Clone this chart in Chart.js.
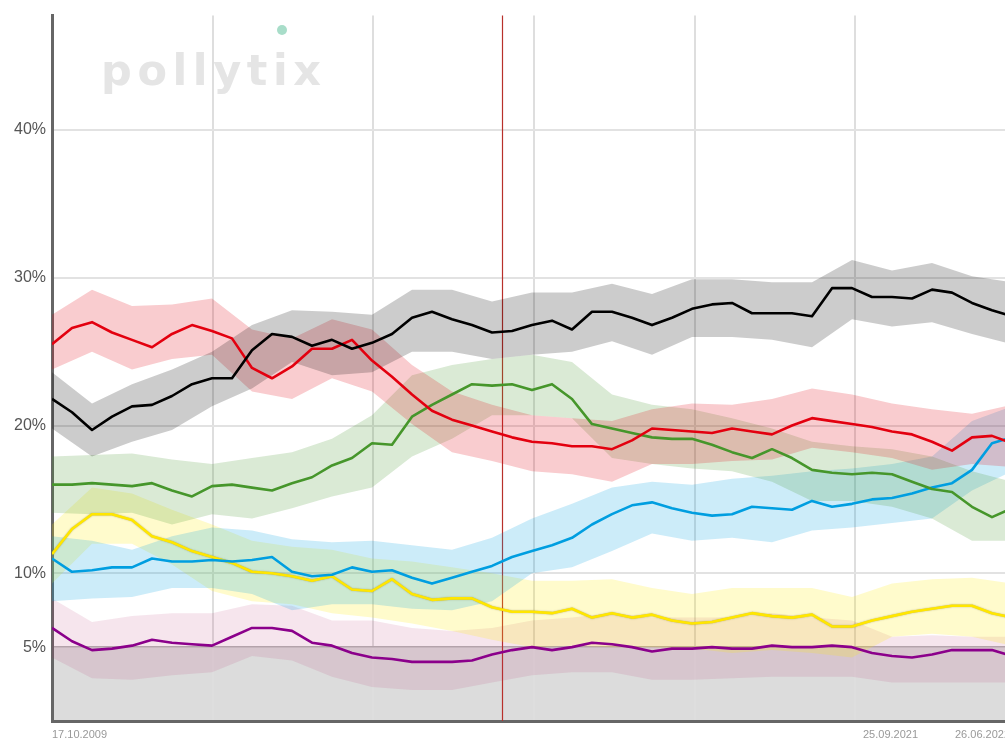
<!DOCTYPE html>
<html><head><meta charset="utf-8">
<script src="https://cdn.jsdelivr.net/npm/chart.js@4.4.1/dist/chart.umd.min.js"></script>
<style>html,body{margin:0;padding:0;background:#fff;overflow:hidden;width:1005px;height:741px}canvas{display:block}</style>
</head><body>
<canvas id="c" width="1060" height="741" style="width:1060px;height:741px"></canvas>
<script>
// x positions are sample indices (one step = one sample); bands are sampled every 2nd index
const dateLabels = ['17.10.2009', '25.09.2021', '26.06.2022'];
const dateLabelPos = [0, 40.55, 45.15];
const gridPos = [8.05, 16.05, 24.1, 32.15, 40.15];
const markerPos = 22.5;
const yTicks = [5, 10, 20, 30, 40];
const threshold = 5;

const cduLine = [21.8,20.9,19.7,20.6,21.3,21.4,22.0,22.8,23.2,23.2,25.1,26.2,26.0,25.4,25.8,25.2,25.6,26.2,27.3,27.7,27.2,26.8,26.3,26.4,26.8,27.1,26.5,27.7,27.7,27.3,26.8,27.3,27.9,28.2,28.3,27.6,27.6,27.6,27.4,29.3,29.3,28.7,28.7,28.6,29.2,29.0,28.3,27.8,27.4];
const spdLine = [25.5,26.6,27.0,26.3,25.8,25.3,26.2,26.8,26.4,25.9,23.9,23.2,24.0,25.2,25.2,25.8,24.4,23.3,22.1,21.0,20.4,20.0,19.6,19.2,18.9,18.8,18.6,18.6,18.4,19.0,19.8,19.7,19.6,19.5,19.8,19.6,19.4,20.0,20.5,20.3,20.1,19.9,19.6,19.4,18.9,18.3,19.2,19.3,18.8];
const grueneLine = [16.0,16.0,16.1,16.0,15.9,16.1,15.6,15.2,15.9,16.0,15.8,15.6,16.1,16.5,17.3,17.8,18.8,18.7,20.6,21.4,22.1,22.8,22.7,22.8,22.4,22.8,21.8,20.1,19.8,19.5,19.2,19.1,19.1,18.7,18.2,17.8,18.4,17.8,17.0,16.8,16.7,16.8,16.7,16.2,15.7,15.5,14.5,13.8,14.4];
const afdLine = [11.0,10.1,10.2,10.4,10.4,11.0,10.8,10.8,10.9,10.8,10.9,11.1,10.1,9.8,9.9,10.4,10.1,10.2,9.7,9.3,9.7,10.1,10.5,11.1,11.5,11.9,12.4,13.3,14.0,14.6,14.8,14.4,14.1,13.9,14.0,14.5,14.4,14.3,14.9,14.5,14.7,15.0,15.1,15.4,15.8,16.1,17.0,18.8,19.2];
const fdpLine = [11.3,13.0,14.0,14.0,13.6,12.5,12.1,11.5,11.1,10.7,10.1,10.0,9.8,9.5,9.8,8.9,8.8,9.6,8.6,8.2,8.3,8.3,7.7,7.4,7.4,7.3,7.6,7.0,7.3,7.0,7.2,6.8,6.6,6.7,7.0,7.3,7.1,7.0,7.2,6.4,6.4,6.8,7.1,7.4,7.6,7.8,7.8,7.3,7.0];
const linkeLine = [6.3,5.4,4.8,4.9,5.1,5.5,5.3,5.2,5.1,5.7,6.3,6.3,6.1,5.3,5.1,4.6,4.3,4.2,4.0,4.0,4.0,4.1,4.5,4.8,5.0,4.8,5.0,5.3,5.2,5.0,4.7,4.9,4.9,5.0,4.9,4.9,5.1,5.0,5.0,5.1,5.0,4.6,4.4,4.3,4.5,4.8,4.8,4.8,4.4];

const cduHigh = [23.6,21.5,22.8,23.8,25.0,26.8,27.8,27.7,27.5,29.2,29.2,28.4,29.0,29.0,29.6,28.9,29.9,29.9,29.7,29.7,31.2,30.5,31.0,30.1,29.7];
const cduLow  = [19.8,17.9,18.9,19.7,21.3,22.5,24.3,23.4,23.6,25.0,25.0,24.5,24.8,25.0,25.7,24.8,26.0,26.0,25.8,25.3,27.2,26.7,27.0,26.2,25.5];
const spdHigh = [27.5,29.2,28.1,28.2,28.6,26.5,25.9,27.2,26.5,24.1,22.3,21.4,20.7,20.5,20.3,21.1,21.5,21.4,21.8,22.5,22.1,21.5,21.1,20.8,21.4];
const spdLow  = [23.8,25.0,23.8,24.5,24.8,22.3,21.8,23.2,22.3,20.1,18.2,17.6,16.9,16.7,16.2,17.4,17.4,17.6,17.7,18.5,18.2,17.8,17.0,17.4,17.2];
const grueneHigh = [17.9,18.0,18.1,17.7,17.4,17.8,18.2,19.1,20.7,23.4,24.1,24.5,24.8,24.3,22.1,21.4,21.1,20.5,19.8,18.9,18.6,18.4,17.9,16.9,16.2];
const grueneLow  = [14.1,14.0,14.1,13.3,14.0,13.7,14.4,15.2,15.8,17.9,19.1,20.7,20.7,20.5,17.8,17.4,17.1,16.9,16.2,14.9,14.9,14.5,13.7,12.2,12.2];
const afdHigh = [12.5,12.2,11.6,12.5,13.1,12.9,12.3,12.1,12.2,11.9,11.6,12.4,13.7,14.7,15.8,16.2,16.0,16.4,16.6,16.9,17.1,17.4,17.9,20.3,21.3];
const afdLow  = [8.1,8.3,8.4,9.0,9.0,8.6,7.5,7.9,7.9,7.6,7.5,8.1,10.0,10.4,11.5,12.7,12.2,12.4,12.1,12.9,13.1,13.4,13.7,15.6,16.9];
const fdpHigh = [13.3,15.8,15.4,14.3,13.3,12.2,11.8,11.6,11.0,10.8,10.4,10.0,9.5,9.5,9.6,9.0,8.6,9.0,9.0,9.0,8.4,9.3,9.6,9.7,9.3];
const fdpLow  = [9.3,12.0,12.0,10.6,8.8,8.1,7.9,7.3,7.0,6.6,6.1,5.5,5.0,5.1,5.0,5.0,4.9,4.6,4.8,4.6,4.3,5.7,5.9,5.7,5.1];
const linkeHigh = [8.3,6.7,7.1,7.3,7.3,7.9,7.8,6.8,6.8,6.3,6.1,6.3,6.8,7.0,7.3,7.0,7.0,7.0,7.3,7.0,6.8,5.7,5.8,5.7,5.7];
const linkeLow  = [4.3,2.9,2.8,3.1,3.3,4.4,4.1,3.0,2.3,2.1,2.1,2.6,3.1,3.3,3.3,2.8,2.8,2.9,3.0,3.0,3.0,2.6,2.6,2.6,2.6];

const parties = [
  {name:'CDU', line:cduLine, hi:cduHigh, lo:cduLow, color:'#000000', band:'rgba(0,0,0,0.2)'},
  {name:'SPD', line:spdLine, hi:spdHigh, lo:spdLow, color:'#e3000f', band:'rgba(227,0,15,0.2)'},
  {name:'Grüne', line:grueneLine, hi:grueneHigh, lo:grueneLow, color:'#46962b', band:'rgba(70,150,43,0.2)'},
  {name:'AfD', line:afdLine, hi:afdHigh, lo:afdLow, color:'#009ee0', band:'rgba(0,158,224,0.2)'},
  {name:'FDP', line:fdpLine, hi:fdpHigh, lo:fdpLow, color:'#ffe600', band:'rgba(255,237,0,0.2)', shadow:true},
  {name:'Linke', line:linkeLine, hi:linkeHigh, lo:linkeLow, color:'#8b008b', band:'rgba(180,40,110,0.12)'}
];

const datasets = [];
parties.forEach(p => {
  datasets.push({label:p.name+' max', data:p.hi.map((v,j)=>({x:j*2,y:v})), borderWidth:0, borderColor:'rgba(0,0,0,0)', pointRadius:0, backgroundColor:p.band, fill:'+1', order:10});
  datasets.push({label:p.name+' min', data:p.lo.map((v,j)=>({x:j*2,y:v})), borderWidth:0, borderColor:'rgba(0,0,0,0)', pointRadius:0, fill:false, order:10});
});
parties.forEach(p => {
  datasets.push({label:p.name, data:p.line.map((v,i)=>({x:i,y:v})), borderColor:p.color, borderWidth:2.6, pointRadius:0, fill:false, tension:0, order:0,
    borderJoinStyle:'round', shadow:!!p.shadow});
});

const decor = {
  id:'decor',
  beforeDraw(chart){
    const {ctx, chartArea:a, scales:{y}} = chart;
    ctx.save();
    ctx.fillStyle = '#dcdcdc';
    const yt = y.getPixelForValue(threshold), y0 = y.getPixelForValue(0);
    ctx.fillRect(a.left, yt, a.right - a.left, y0 - yt);
    // watermark
    ctx.fillStyle = '#e5e5e5';
    ctx.font = 'bold 43px "DejaVu Sans", sans-serif';
    ctx.textBaseline = 'alphabetic';
    const word = 'pollytix';
    const w0 = ctx.measureText(word).width;
    const sp = Math.max(0, (220 - w0) / (word.length - 1));
    try { ctx.letterSpacing = sp.toFixed(1) + 'px'; } catch(e) {}
    ctx.fillText(word, 101, 85);
    ctx.fillStyle = '#a8ddc9';
    ctx.beginPath(); ctx.arc(282, 30, 5, 0, Math.PI*2); ctx.fill();
    ctx.restore();
  },
  beforeDatasetsDraw(chart){
    const {ctx, chartArea:a, scales:{x}} = chart;
    const px = Math.round(x.getPixelForValue(markerPos)) + 0.5;
    ctx.save();
    ctx.strokeStyle = '#b8302b';
    ctx.lineWidth = 1.2;
    ctx.beginPath(); ctx.moveTo(px, a.top); ctx.lineTo(px, a.bottom); ctx.stroke();
    ctx.restore();
  },
  beforeDatasetDraw(chart, args){
    if (args.meta.dataset && chart.data.datasets[args.index].shadow) {
      chart.ctx.save();
      chart.ctx.shadowColor = 'rgba(90,80,0,0.45)';
      chart.ctx.shadowBlur = 1.5;
    }
  },
  afterDatasetDraw(chart, args){
    if (args.meta.dataset && chart.data.datasets[args.index].shadow) chart.ctx.restore();
  }
};

const xTickVals = [...dateLabelPos, ...gridPos].sort((a,b)=>a-b);

new Chart(document.getElementById('c'), {
  type:'line',
  data:{datasets},
  options:{
    responsive:false, animation:false, events:[],
    layout:{padding:{top:12, left:0, right:0, bottom:0}},
    plugins:{legend:{display:false}, tooltip:{enabled:false}},
    scales:{
      x:{
        type:'linear', min:0, max:50.4,
        afterBuildTicks(s){ s.ticks = xTickVals.map(v=>({value:v})); },
        afterFit(s){ s.height = 20; },
        ticks:{autoSkip:false, maxRotation:0, align:'start', padding:7, color:'#999',
          font:{size:11, family:'"Liberation Sans", Arial, sans-serif'},
          callback(v){ const k = dateLabelPos.indexOf(v); return k >= 0 ? dateLabels[k] : ''; }},
        grid:{drawTicks:false, lineWidth:2,
          color(c){ return (c.tick && gridPos.includes(c.tick.value)) ? '#dedede' : 'rgba(0,0,0,0)'; }},
        border:{display:true, color:'#666', width:3}
      },
      y:{
        type:'linear', min:0, max:47.75,
        afterBuildTicks(s){ s.ticks = yTicks.map(v=>({value:v})); },
        afterFit(s){ s.width = 52; },
        ticks:{padding:6, color:'#555', font:{size:16, family:'"Liberation Sans", Arial, sans-serif'},
          callback(v){ return v + '%'; }},
        grid:{drawTicks:false,
          lineWidth(c){ return c.tick && c.tick.value === threshold ? 1.5 : 2; },
          color(c){ return c.tick && c.tick.value === threshold ? '#b4b4b4' : '#e2e2e2'; }},
        border:{display:true, color:'#666', width:3}
      }
    }
  },
  plugins:[decor]
});
</script>
</body></html>
